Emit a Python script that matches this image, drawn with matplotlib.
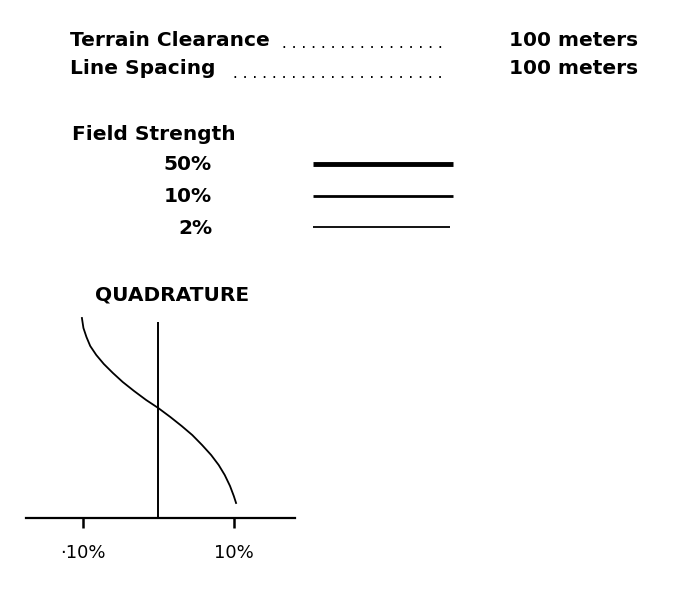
import numpy as np
import matplotlib.pyplot as plt

plt.rcParams['font.family'] = ['DejaVu Sans']

# survey parameters
param_names = ["Terrain Clearance", "Line Spacing"]
param_values = ["100 meters", "100 meters"]
leader_dots = [17, 22]

# field strength contour levels
fs_levels = ["50%", "10%", "2%"]

# quadrature response across the anomaly
quad_x = np.array([-10.1, -9.9, -9.5, -9.0, -8.2, -7.2, -6.0, -4.7, -3.2, -1.6, 0.0,
                   1.6, 3.1, 4.5, 5.8, 7.0, 8.0, 8.8, 9.5, 10.0, 10.3])
quad_y = np.array([200, 190, 181, 172, 163, 154, 145, 136, 127, 118, 110,
                   101, 92, 83, 73, 63, 53, 43, 32, 22, 15])
quad_ticks = [-10, 10]
quad_ticklabels = ["\u00b710%", "10%"]

W, H = 676, 609
fig = plt.figure(figsize=(W / 100, H / 100), dpi=100)

# page axes in pixel units for the header block
page = fig.add_axes([0, 0, 1, 1])
page.set_xlim(0, W)
page.set_ylim(H, 0)
page.axis('off')

fs = 14.5
for i, (name, val) in enumerate(zip(param_names, param_values)):
    y = 40 + 29 * i
    page.text(70, y, name, fontsize=fs, fontweight='bold', va='center', ha='left')
    page.text(443, y + 4, " ." * leader_dots[i], fontsize=11, va='center', ha='right')
    page.text(638, y, val, fontsize=fs, fontweight='bold', va='center', ha='right')

page.text(72, 135, "Field Strength", fontsize=fs, fontweight='bold', va='center', ha='left')
lw = [3.5, 2.0, 1.3]
for i, lab in enumerate(fs_levels):
    y = 165 + 31.5 * i
    page.text(212, y, lab, fontsize=fs, fontweight='bold', va='center', ha='right')
    page.plot([313, 453 if i < 2 else 450], [y - 1, y - 1], color='black', lw=lw[i],
              solid_capstyle='butt')

page.text(172, 295, "QUADRATURE", fontsize=fs, fontweight='bold', va='center', ha='center')

# quadrature sketch
ax = fig.add_axes([26 / W, 1 - 518 / H, 269 / W, 205 / H])
ax.set_xlim(-17.5, 18.1)
ax.set_ylim(0, 205)
ax.patch.set_alpha(0)
for s in ['top', 'right', 'left']:
    ax.spines[s].set_visible(False)
ax.spines['bottom'].set_linewidth(1.6)
ax.plot(quad_x, quad_y, color='black', lw=1.3)
ax.vlines(0, 0, 196, color='black', lw=1.4)
ax.set_yticks([])
ax.set_xticks(quad_ticks, quad_ticklabels)
ax.tick_params(axis='x', direction='out', length=7, width=1.8, pad=12, labelsize=13)

fig.savefig("out.png", dpi=100)
